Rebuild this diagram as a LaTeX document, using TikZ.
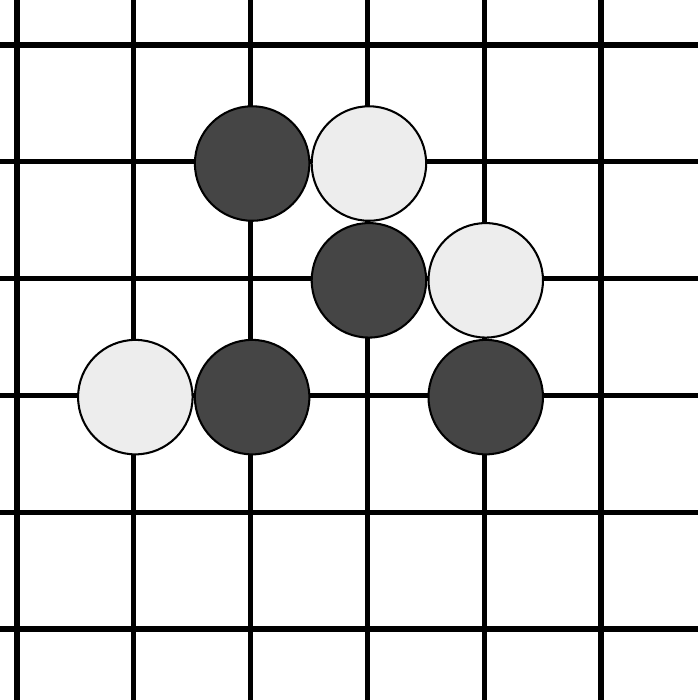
\documentclass[tikz,border=0pt]{standalone}
\usepackage{tikz}

\tikzset{
  gridline/.style={line width=1.25pt, black},
  stone/.style={circle, draw=black, line width=0.5pt, minimum size=0.98cm, inner sep=0pt},
  blackstone/.style={stone, fill=black!73},
  whitestone/.style={stone, fill=black!7}
}

\begin{document}
\begin{tikzpicture}
            % Cornice della figura
            \useasboundingbox (-0.1456,0.385) rectangle (5.830,-5.608);

            % Griglia
            \foreach \i in {0,...,5} {
                \draw[gridline] (\i,0.4) -- (\i,-5.7);
                \draw[gridline] (-0.2,-\i) -- (5.9,-\i);
            }

            % Pietre (leggermente spostate come nell'originale)
            \begin{scope}[shift={(0.013,-0.015)}]
                % Pietre nere
                \node[blackstone] (n1) at (2,-1) {};
                \node[blackstone] (n2) at (3,-2) {};
                \node[blackstone] (n3) at (2,-3) {};
                \node[blackstone] (n4) at (4,-3) {};

                % Pietre bianche
                \node[whitestone] (b1) at (3,-1) {};
                \node[whitestone] (b2) at (4,-2) {};
                \node[whitestone] (b3) at (1,-3) {};
            \end{scope}
        \end{tikzpicture}
\end{document}
